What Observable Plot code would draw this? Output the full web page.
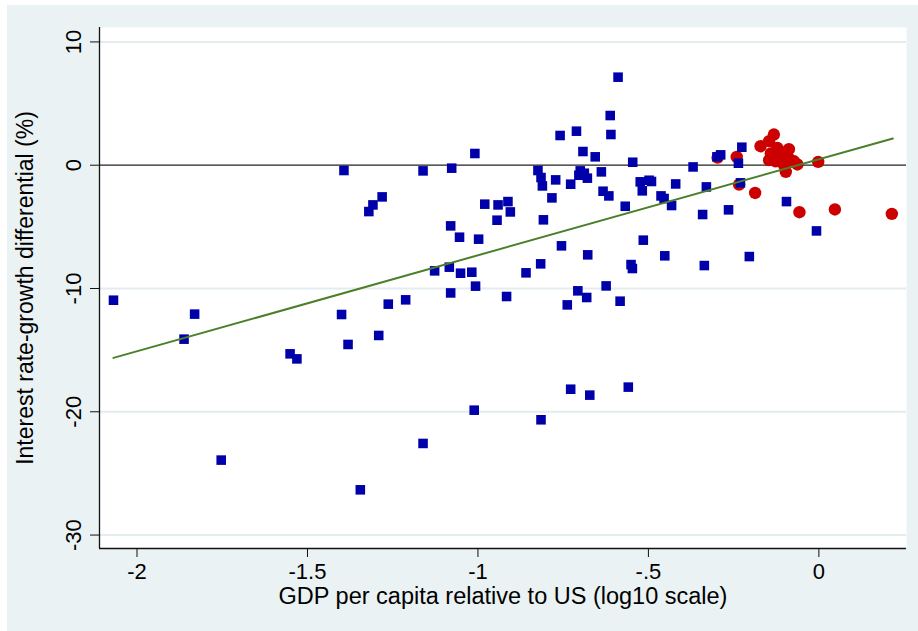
<!DOCTYPE html>
<html>
<head>
<meta charset="utf-8">
<script src="https://cdn.jsdelivr.net/npm/d3@7"></script>
<script src="https://cdn.jsdelivr.net/npm/@observablehq/plot@0.6"></script>
<style>
  html, body { margin: 0; background: #EAF2F3; overflow: hidden; }
  #chart svg { display: block; max-width: none; box-shadow: inset 7px 5px 0 #fff; }
</style>
</head>
<body>
<div id="chart"></div>
<script>
// advanced economies (red circles)
const redX = [-0.297, -0.241, -0.234, -0.187, -0.171, -0.132, -0.146, -0.122, -0.088, -0.141,
  -0.117, -0.107, -0.146, -0.127, -0.088, -0.073, -0.063, -0.102, -0.097, -0.002,
  -0.057, 0.047, 0.214]
const redY = [0.62, 0.67, -1.57, -2.25, 1.54, 2.49, 1.95, 1.40, 1.30, 0.95,
  0.95, 0.67, 0.41, 0.32, 0.54, 0.32, 0.06, 0.00, -0.54, 0.27,
  -3.81, -3.59, -3.95]

// emerging / developing (blue squares)
const blueX = [-2.069, -1.831, -1.862, -1.753, -1.551, -1.531, -1.400, -1.393, -1.381, -1.345,
  -1.320, -1.308, -1.291, -1.281, -1.263, -1.212, -1.161, -1.161, -1.127, -1.084,
  -1.080, -1.080, -1.077, -1.054, -1.051, -1.018, -1.011, -1.009, -1.007, -0.998,
  -0.980, -0.944, -0.941, -0.916, -0.912, -0.905, -0.859, -0.824, -0.816, -0.815,
  -0.815, -0.811, -0.808, -0.783, -0.772, -0.759, -0.755, -0.738, -0.728, -0.728,
  -0.711, -0.707, -0.700, -0.704, -0.688, -0.679, -0.692, -0.681, -0.678, -0.672,
  -0.656, -0.638, -0.633, -0.624, -0.616, -0.612, -0.610, -0.589, -0.583, -0.568,
  -0.559, -0.551, -0.547, -0.546, -0.524, -0.518, -0.515, -0.498, -0.491, -0.463,
  -0.454, -0.452, -0.432, -0.420, -0.369, -0.341, -0.336, -0.330, -0.299, -0.288,
  -0.265, -0.236, -0.230, -0.226, -0.204, -0.095, -0.007]
const blueY = [-10.95, -12.08, -14.11, -23.92, -15.30, -15.71, -12.11, -0.43, -14.54, -26.33,
  -3.76, -3.22, -13.81, -2.57, -11.27, -10.92, -0.46, -22.57, -8.57, -8.27,
  -4.92, -10.36, -0.24, -5.84, -8.76, -8.68, -19.87, 0.95, -9.81, -6.00,
  -3.16, -4.46, -3.22, -10.65, -2.95, -3.79, -8.73, -0.43, -8.00, -1.00,
  -20.65, -1.68, -4.43, -2.65, -1.19, 2.41, -6.54, -11.33, -1.54, -18.17,
  2.76, -10.19, -0.46, -0.81, -0.65, -1.05, 1.11, -10.73, -7.27, -18.65,
  0.68, -0.54, -2.11, -9.79, -2.49, 4.03, 2.49, 7.14, -11.03, -3.33,
  -18.00, -8.06, -8.38, 0.24, -1.35, -2.08, -6.08, -1.22, -1.32, -2.49,
  -2.70, -7.35, -3.27, -1.52, -0.14, -4.00, -8.14, -1.76, 0.68, 0.84,
  -3.62, 0.16, -1.43, 1.46, -7.41, -2.95, -5.33]

// fitted line end points
const fitX = [-2.069, 0.217]
const fitY = [-15.63, 2.17]

const xTicks = [-2, -1.5, -1, -0.5, 0]
const xTickLabels = ["-2", "-1.5", "-1", "-.5", "0"]
const yTicks = [-30, -20, -10, 0, 10]
const xDomain = [-2.11, 0.257]
const yDomain = [-31.09, 11.17]

const xTitle = "GDP per capita relative to US (log10 scale)"
const yTitle = "Interest rate-growth differential (%)"

const red = redX.map((x, i) => ({ x, y: redY[i] }))
const blue = blueX.map((x, i) => ({ x, y: blueY[i] }))
const fit = fitX.map((x, i) => ({ x, y: fitY[i] }))

let chart = Plot.plot({
    width: 918,
    height: 631,
    marginLeft: 99,
    marginRight: 12,
    marginTop: 27,
    marginBottom: 83,
    x: { domain: xDomain },
    y: { domain: yDomain },
    style: {
        backgroundColor: "#EAF2F3",
        fontFamily: "'Liberation Sans', Arial, sans-serif",
        color: "black",
        overflow: "visible"
    },
    marks: [
        Plot.frame({ fill: "white", stroke: null }),
        Plot.gridY([-30, -20, -10, 10], { stroke: "#E3ECEF", strokeOpacity: 1, strokeWidth: 2 }),
        Plot.ruleY([0], { stroke: "#222", strokeWidth: 1.3 }),
        Plot.dot(red, { x: "x", y: "y", r: 6.2, fill: "#CC0000", stroke: null }),
        Plot.dot(blue, { x: "x", y: "y", symbol: "square", r: 5.4, fill: "#0000AA", stroke: null }),
        Plot.line(fit, { x: "x", y: "y", stroke: "#4B7F2A", strokeWidth: 2 }),
        Plot.ruleX([xDomain[0]], { stroke: "#111", strokeWidth: 1.3 }),
        Plot.ruleY([yDomain[0]], { stroke: "#111", strokeWidth: 1.3 }),
        Plot.axisX({
            ticks: xTicks, tickFormat: (d, i) => xTickLabels[i], tickSize: 9, tickPadding: 6,
            fontSize: 22, stroke: "#111", label: null
        }),
        Plot.axisY({
            ticks: yTicks, tickFormat: d => String(d), tickSize: 9, tickPadding: 10, tickRotate: -90,
            fontSize: 22, stroke: "#111", label: null
        }),
        Plot.text([xTitle], { frameAnchor: "bottom", dy: 48, fontSize: 23.5, lineAnchor: "middle" }),
        Plot.text([yTitle], { frameAnchor: "left", dx: -74, rotate: -90, fontSize: 23, textAnchor: "middle", lineAnchor: "middle" })
    ]
})

d3.select('#chart').append(() => chart)
</script>
</body>
</html>
